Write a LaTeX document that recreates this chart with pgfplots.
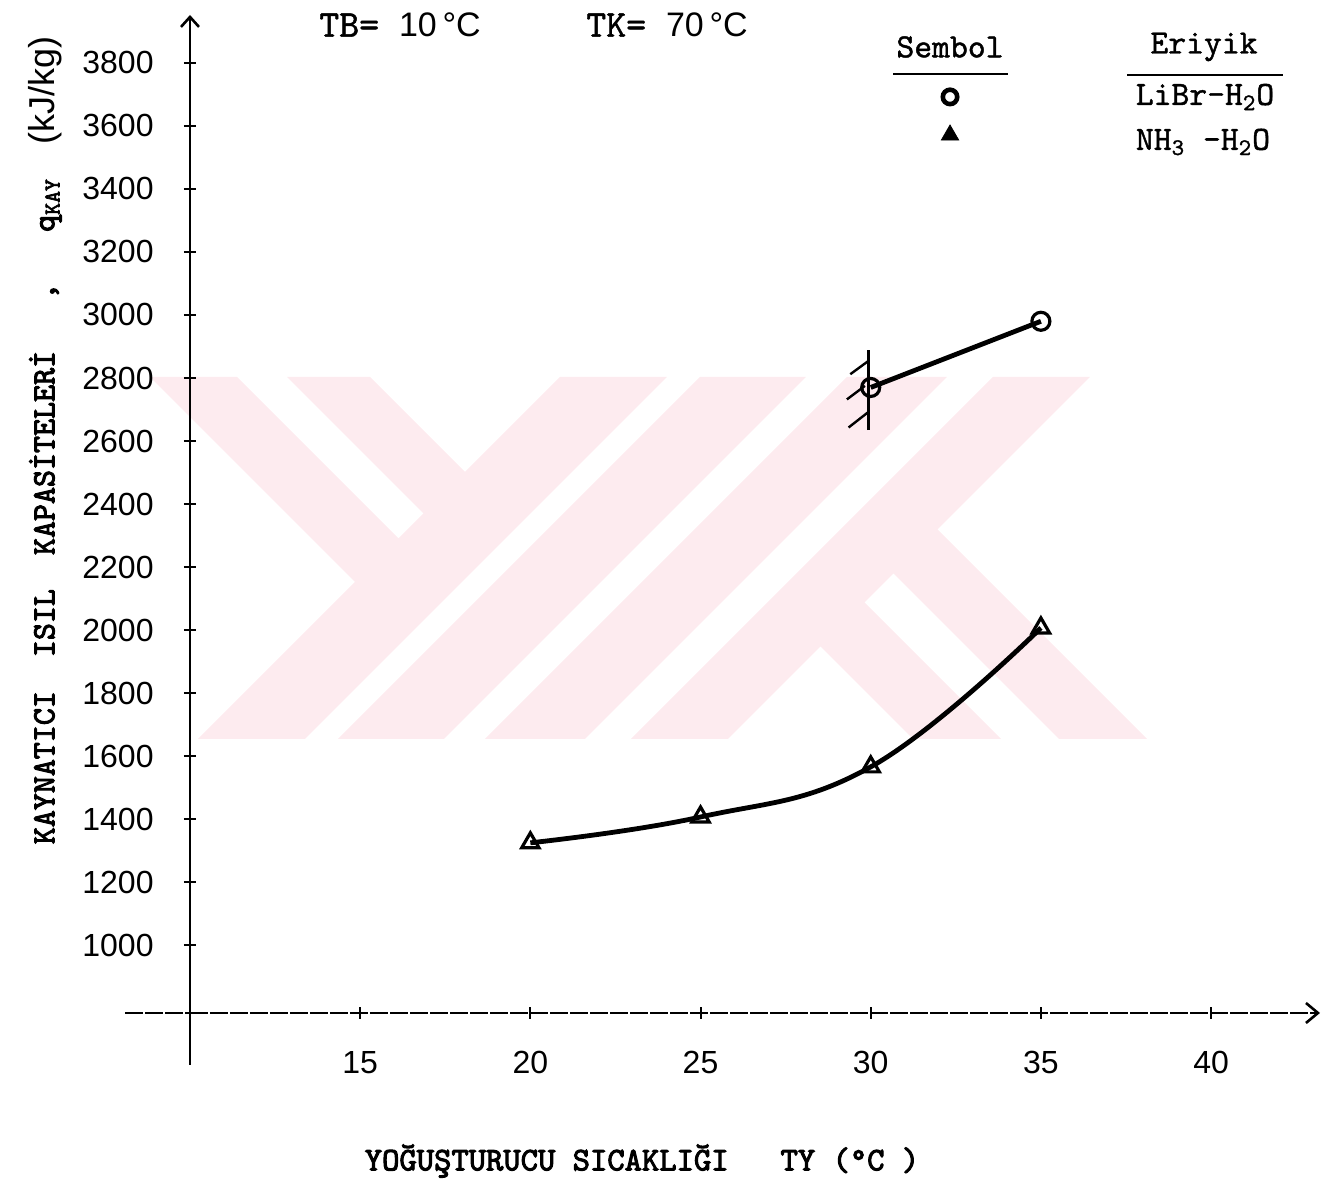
\documentclass[border=0pt]{standalone}
\usepackage{fontspec}
\usepackage{pgfplots}
\pgfplotsset{compat=1.18}
\usetikzlibrary{arrows.meta}
\newfontfamily\lett{Liberation Sans}
\newfontfamily\twb{lmmono10-regular.otf}[FakeBold=3]
\newfontfamily\twm{lmmono10-regular.otf}[FakeBold=1.2]
\definecolor{wm}{RGB}{253,235,239}

\begin{document}
\begin{tikzpicture}
\path[use as bounding box] (-95pt,-84pt) rectangle (577pt,506.5pt);
% faint background watermark (pixel frame)
\begin{scope}[x=0.5pt,y=-0.5pt,shift={(-95pt,506.5pt)}]
 \fill[wm] (150,377) -- (237,377) -- (398.5,538.5) -- (423.5,513.5) -- (287,377) -- (370,377) -- (465,472) -- (560,377) -- (667,377) -- (305,739) -- (198,739) -- (355,582) -- cycle;
 \fill[wm] (700,377) -- (806,377) -- (444,739) -- (338,739) -- cycle;
 \fill[wm] (847,377) -- (947,377) -- (585,739) -- (485,739) -- cycle;
 \fill[wm] (993,377) -- (1090,377) -- (937.5,529.5) -- (1147,739) -- (1059,739) -- (893.5,573.5) -- (864.5,602.5) -- (1001,739) -- (913,739) -- (820.5,646.5) -- (728,739) -- (631,739) -- cycle;
\end{scope}
\begin{axis}[
  at={(0,0)}, anchor=south west,
  width=565pt, height=499pt, scale only axis,
  xmin=10, xmax=43.2, ymin=785, ymax=3952,
  axis x line=bottom, axis y line=left,
  x axis line style={line width=1.2pt, dash pattern=on 9pt off 1pt, -{Straight Barb[length=6pt,width=10pt,line width=1.3pt]}},
  y axis line style={line width=1pt, -{Straight Barb[length=5pt,width=9pt,line width=1.3pt]}},
  xtick={15,20,25,30,35,40},
  ytick={1000,1200,1400,1600,1800,2000,2200,2400,2600,2800,3000,3200,3400,3600,3800},
  yticklabels={1000,1200,1400,1600,1800,2000,2200,2400,2600,2800,3000,3200,3400,3600,3800},
  xticklabels={15,20,25,30,35,40},
  tick align=center, major tick length=6pt,
  tick style={line width=1pt, black},
  minor tick num=0,
  ticklabel style={font=\lett\fontsize{16}{16}\selectfont},
  xticklabel style={anchor=north, inner sep=0pt, yshift=-16pt},
  yticklabel style={anchor=east, inner sep=0pt, xshift=-15pt},
  xlabel={YOĞUŞTURUCU\ SICAKLIĞI\ \ \ TY\ (°C\ )},
  xlabel style={font=\twb\fontsize{16.5}{18}\selectfont, at={(axis description cs:0.4,-0.1483)}, anchor=center},
  ylabel={KAYNATICI\ \ ISIL\ \ KAPASİTELERİ\ \ \ ,\ \ \ q\textsubscript{KAY}\ \ {\lett\fontsize{18}{18}\selectfont(kJ/kg)}},
  ylabel style={font=\twb\fontsize{16.2}{18}\selectfont, at={(axis description cs:-0.1283,0.574)}, anchor=center},
  clip=false,
]
% axis extensions
\draw[line width=1.2pt, dash pattern=on 9pt off 1pt] (axis cs:8.1,785) -- (axis cs:10,785);
\draw[line width=1pt] (axis cs:10,785) -- (axis cs:10,619);

% LiBr-H2O
\addplot[black, line width=2.4pt, mark=o, mark size=4.5pt, mark options={line width=1.6pt, fill=white}]
  coordinates {(30,2770) (35,2980)};
% limit hatch at 30 C
\addplot[black, line width=1.2pt, forget plot] coordinates {(29.93,2635) (29.93,2889)};
\addplot[black, line width=1.2pt, forget plot] coordinates {(29.40,2812) (29.93,2854)};
\addplot[black, line width=1.2pt, forget plot] coordinates {(29.30,2732) (29.83,2775)};
\addplot[black, line width=1.2pt, forget plot] coordinates {(29.35,2643) (29.93,2692)};
% NH3-H2O
\addplot[black, line width=2.4pt, smooth, tension=0.7, mark=triangle, mark size=5pt, mark options={line width=1.6pt}]
  coordinates {(20,1325) (25,1407) (30,1566) (35,2007)};
% legend symbols
\addplot[only marks, black, mark=o, mark size=3.6pt, mark options={line width=2.3pt}, forget plot] coordinates {(32.33,3692)};
\addplot[only marks, black, mark=triangle*, mark size=5pt, forget plot] coordinates {(32.33,3571)};
\end{axis}
\begin{scope}[x=0.5pt,y=-0.5pt,shift={(-95pt,506.5pt)}]
 \node[font=\twm\fontsize{19}{20}\selectfont] at (400,25) {TB=\ {\lett\fontsize{17}{18}\selectfont 10\,°C}};
 \node[font=\twm\fontsize{19}{20}\selectfont] at (667,25) {TK=\ {\lett\fontsize{17}{18}\selectfont 70\,°C}};
 \node[font=\twm\fontsize{17}{18}\selectfont] at (950,47) {Sembol};
 \node[font=\twm\fontsize{17}{18}\selectfont] at (1204,47) {Eriyik};
 \draw[line width=1.2pt] (893,74) -- (1008,74);
 \draw[line width=1.2pt] (1127,75) -- (1283,75);
 \node[font=\twm\fontsize{17}{18}\selectfont] at (1205,97) {LiBr-H\textsubscript{2}O};
 \node[font=\twm\fontsize{17}{18}\selectfont] at (1203,142) {NH\textsubscript{3} -H\textsubscript{2}O};
\end{scope}
\end{tikzpicture}
\end{document}
